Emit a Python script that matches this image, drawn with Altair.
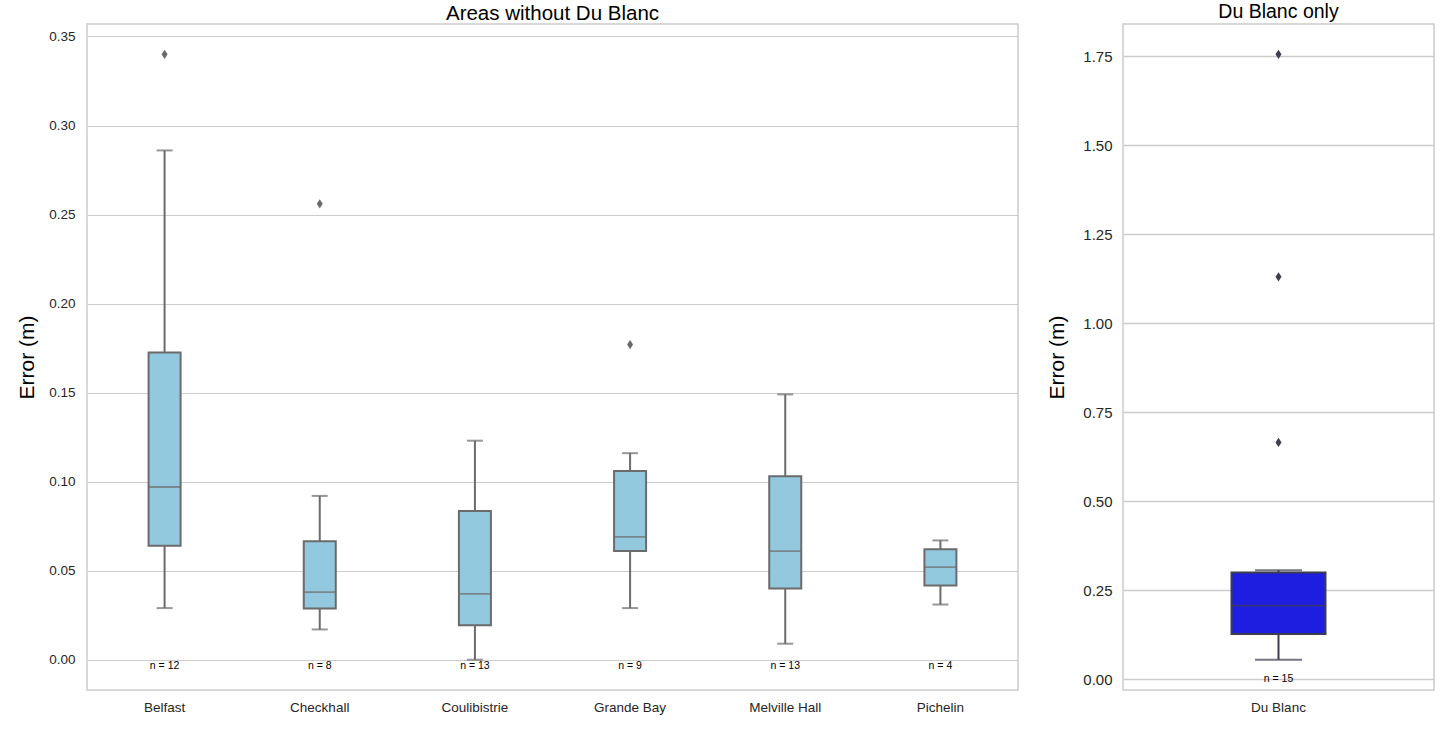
import altair as alt
import pandas as pd

# Summary statistics per survey area (error in metres)
areas = ["Belfast", "Checkhall", "Coulibistrie", "Grande Bay", "Melville Hall", "Pichelin"]
counts = [12, 8, 13, 9, 13, 4]
whisker_low = [0.029, 0.017, 0.000, 0.029, 0.009, 0.031]
q1 = [0.064, 0.0287, 0.0193, 0.061, 0.040, 0.0417]
median = [0.097, 0.038, 0.037, 0.069, 0.061, 0.052]
q3 = [0.1725, 0.0665, 0.0835, 0.106, 0.103, 0.062]
whisker_high = [0.286, 0.092, 0.123, 0.116, 0.149, 0.067]
outlier_area = ["Belfast", "Checkhall", "Grande Bay"]
outlier_value = [0.340, 0.256, 0.177]

# Du Blanc is shown on its own scale
db_area = ["Du Blanc"]
db_count = [15]
db_low = [0.055]
db_q1 = [0.127]
db_median = [0.207]
db_q3 = [0.300]
db_high = [0.306]
db_outlier_area = ["Du Blanc", "Du Blanc", "Du Blanc"]
db_outlier_value = [0.665, 1.130, 1.755]

left_ticks = [0.0, 0.05, 0.10, 0.15, 0.20, 0.25, 0.30, 0.35]
right_ticks = [0.0, 0.25, 0.50, 0.75, 1.00, 1.25, 1.50, 1.75]

FONT = "Liberation Sans"
DIAMOND = "M0,-1L0.65,0L0,1L-0.65,0Z"


def box_panel(names, n, lo, b1, med, b3, hi, out_names, out_vals,
              domain, ticks, fill, line, box_px, cap_px, title, title_size,
              title_offset, width, n_dy, grid_width, tick_font, label_pad,
              ytitle_pad):
    stats = pd.DataFrame({"area": names, "n": n, "lo": lo, "q1": b1,
                          "med": med, "q3": b3, "hi": hi})
    outs = pd.DataFrame({"area": out_names, "value": out_vals})

    x = alt.X("area:N", sort=names, title=None,
              scale=alt.Scale(paddingInner=0, paddingOuter=0),
              axis=alt.Axis(labelAngle=0, labelFontSize=13.5, labelColor="#262626",
                            labelPadding=10, ticks=False, tickSize=0,
                            domain=False, grid=False, labelFont=FONT))
    yscale = alt.Scale(domain=domain, nice=False, zero=False)
    yaxis = alt.Axis(values=ticks, format=".2f", grid=True, gridColor="#cccccc",
                     gridWidth=grid_width, domain=False, ticks=False, tickSize=0,
                     labelFontSize=tick_font, labelColor="#262626",
                     labelPadding=label_pad, labelFont=FONT, titleFont=FONT,
                     titleFontSize=21, titleFontWeight="normal", titleColor="black",
                     titlePadding=ytitle_pad)

    base = alt.Chart(stats)
    whisker = base.mark_rule(color=line, strokeWidth=2).encode(
        x=x, y=alt.Y("lo:Q", scale=yscale, axis=yaxis, title="Error (m)"), y2="hi:Q")
    cap_lo = base.mark_tick(orient="horizontal", color=line, size=cap_px,
                            thickness=2).encode(x=x, y="lo:Q")
    cap_hi = base.mark_tick(orient="horizontal", color=line, size=cap_px,
                            thickness=2).encode(x=x, y="hi:Q")
    box = base.mark_bar(size=box_px, fill=fill, stroke=line, strokeWidth=2).encode(
        x=x, y="q1:Q", y2="q3:Q")
    mid = base.mark_tick(orient="horizontal", color=line, size=box_px,
                         thickness=1.8).encode(x=x, y="med:Q")
    fliers = alt.Chart(outs).mark_point(shape=DIAMOND, filled=True, opacity=1,
                                        color=line, size=85).encode(
        x=x, y="value:Q")
    ncount = base.transform_calculate(label="'n = ' + datum.n").mark_text(
        fontSize=10.5, font=FONT, color="black", dy=n_dy).encode(
        x=x, y=alt.datum(0), text="label:N")

    return alt.layer(whisker, cap_lo, cap_hi, box, mid, fliers, ncount).properties(
        width=width, height=666,
        title=alt.TitleParams(title, fontSize=title_size, fontWeight="normal",
                              font=FONT, color="black", anchor="middle",
                              offset=title_offset))


left = box_panel(areas, counts, whisker_low, q1, median, q3, whisker_high,
                 outlier_area, outlier_value, [-0.017, 0.357], left_ticks,
                 "#93c9de", "#6b6b6b", 32, 16, "Areas without Du Blanc", 20.5, 0,
                 931, 6, 1, 13.5, 12, 11)
right = box_panel(db_area, db_count, db_low, db_q1, db_median, db_q3, db_high,
                  db_outlier_area, db_outlier_value, [-0.03, 1.84], right_ticks,
                  "#1e1ee0", "#3d3d4f", 94, 47, "Du Blanc only", 19.5, 2,
                  311, 0, 1.6, 15, 11, 15)

chart = alt.hconcat(left, right, spacing=27).resolve_scale(
    y="independent", x="independent").configure_view(
    stroke="#cccccc", strokeWidth=1.5).properties(
    padding={"left": 15, "top": 0, "right": 5, "bottom": 5},
    background="white")

chart.save("out.html", embed_options={"renderer": "svg", "actions": False})
